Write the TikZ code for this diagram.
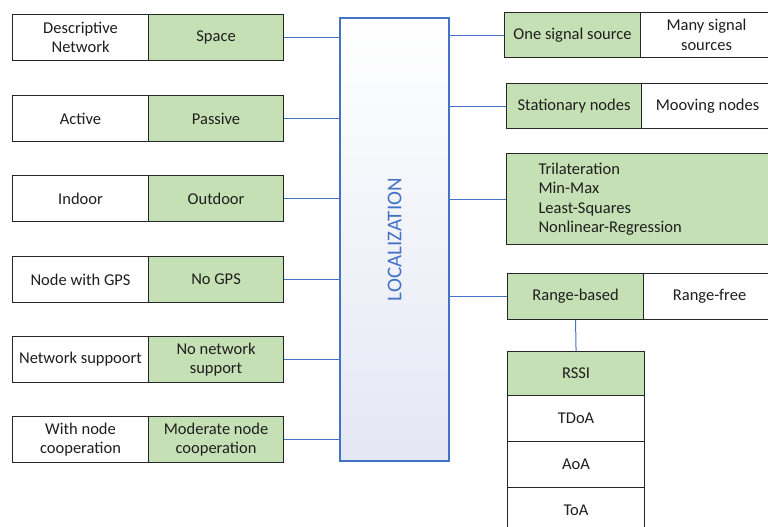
\documentclass[tikz,border=0pt]{standalone}
\usepackage{fontspec}
\setmainfont{Carlito}
\definecolor{gfill}{HTML}{C5E0B4}
\definecolor{lblue}{HTML}{4472C4}
\definecolor{lav}{HTML}{E4E7F4}
\definecolor{txt}{HTML}{1E1E1E}
\begin{document}
\begin{tikzpicture}[x=1pt,y=-1pt,
  box/.style={draw=black!85, line width=1.1pt, rectangle, inner sep=0pt,
    minimum height=46pt, align=center, anchor=north west, text=txt,
    font=\fontsize{16.5}{19.5}\selectfont},
  wbox/.style={box, fill=white},
  gbox/.style={box, fill=gfill},
  conn/.style={draw=lblue, line width=1pt}]
\useasboundingbox (0,0) rectangle (768,527);
\clip (0,0) rectangle (768,527);
% central box
\node[draw=lblue, line width=2.2pt, top color=white, bottom color=lav,
  minimum width=109pt, minimum height=443pt, inner sep=0pt, anchor=north west]
  (loc) at (339,17) {};
\node[rotate=90, text=lblue, font=\fontsize{21}{24}\selectfont] (loct) at (loc.center) {LOCALIZATION};
% left rows
\node[wbox, minimum width=136pt] (w1) at (12,14) {Descriptive\\Network};
\node[gbox, minimum width=135pt] (g1) at (148,14) {Space};
\node[wbox, minimum width=136pt] (w2) at (12,95) {Active};
\node[gbox, minimum width=135pt] (g2) at (148,95) {Passive};
\node[wbox, minimum width=136pt] (w3) at (12,175) {Indoor};
\node[gbox, minimum width=135pt] (g3) at (148,175) {Outdoor};
\node[wbox, minimum width=136pt] (w4) at (12,256) {Node with GPS};
\node[gbox, minimum width=135pt] (g4) at (148,256) {No GPS};
\node[wbox, minimum width=136pt] (w5) at (12,336) {Network suppoort};
\node[gbox, minimum width=135pt] (g5) at (148,336) {No network\\support};
\node[wbox, minimum width=136pt] (w6) at (12,416) {With node\\cooperation};
\node[gbox, minimum width=135pt] (g6) at (148,416) {Moderate node\\cooperation};
\foreach \n in {g1,g2,g3,g4,g5,g6}
  \draw[conn] (\n.east) -- (\n.east -| loc.west);
% right rows
\node[gbox, minimum width=136pt, minimum height=45pt] (r1g) at (504,12) {One signal source};
\node[wbox, minimum width=132pt, minimum height=45pt] (r1w) at (640,12) {Many signal\\sources};
\node[gbox, minimum width=135pt, minimum height=45pt] (r2g) at (506,83) {Stationary nodes};
\node[wbox, minimum width=132pt, minimum height=45pt] (r2w) at (641,83) {Mooving nodes};
\node[gbox, minimum width=270pt, minimum height=91pt, align=left, text width=236pt,
  inner xsep=32pt] (r3) at (506,153) {Trilateration\\Min-Max\\Least-Squares\\Nonlinear-Regression};
\node[gbox, minimum width=136pt] (rb) at (507,273) {Range-based};
\node[wbox, minimum width=132pt] (rf) at (643,273) {Range-free};
\draw[conn] (loc.east |- r1g.west) -- (r1g.west);
\draw[conn] (loc.east |- r2g.west) -- (r2g.west);
\draw[conn] (loc.east |- r3.west) -- (r3.west);
\draw[conn] (loc.east |- rb.west) -- (rb.west);
% stack
\node[gbox, minimum width=137pt, minimum height=44pt] (rssi) at (507,351) {RSSI};
\node[wbox, minimum width=137pt] (tdoa) at (507,395) {TDoA};
\node[wbox, minimum width=137pt] (aoa) at (507,441) {AoA};
\node[wbox, minimum width=137pt] (toa) at (507,487) {ToA};
\draw[conn] (rb.south) -- (rssi.north);
\end{tikzpicture}
\end{document}
